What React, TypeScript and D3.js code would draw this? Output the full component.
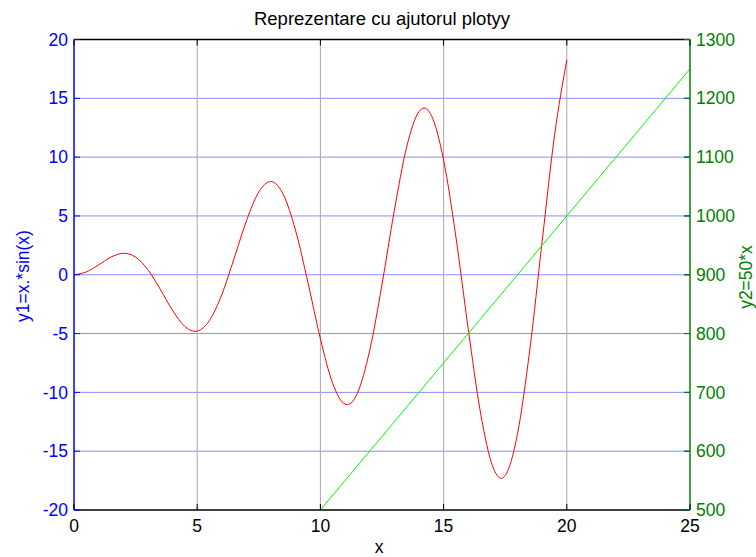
import React from "react";
import * as d3 from "d3";

const x1Values = [0, 0.5, 1, 1.5, 2, 2.03, 2.5, 3, 3.5, 4, 4.5, 4.91, 5, 5.5, 6, 6.5, 7, 7.5, 7.98, 8, 8.5, 9, 9.5, 10, 10.5, 11, 11.09, 11.5, 12, 12.5, 13, 13.5, 14, 14.21, 14.5, 15, 15.5, 16, 16.5, 17, 17.34, 17.5, 18, 18.5, 19, 19.5, 20];
const y1Values = [0, 0.24, 0.84, 1.5, 1.82, 1.82, 1.5, 0.42, -1.23, -3.03, -4.4, -4.81, -4.79, -3.88, -1.68, 1.4, 4.6, 7.04, 7.92, 7.92, 6.79, 3.71, -0.71, -5.44, -9.24, -11.0, -11.04, -10.07, -6.44, -0.83, 5.46, 10.85, 13.87, 14.17, 13.56, 9.75, 3.2, -4.61, -11.75, -16.34, -17.31, -17.07, -13.52, -6.34, 2.85, 11.81, 18.26];
const x2Values = [10, 25];
const y2Values = [500, 1250];

const xTicks = [0, 5, 10, 15, 20, 25];
const y1Ticks = [-20, -15, -10, -5, 0, 5, 10, 15, 20];
const y2Ticks = [500, 600, 700, 800, 900, 1000, 1100, 1200, 1300];

const title = "Reprezentare cu ajutorul plotyy";
const xLabel = "x";
const y1Label = "y1=x.*sin(x)";
const y2Label = "y2=50*x";

const W = 756, H = 557;
const L = 74, R = 690, T = 39.5, B = 510;
const FONT = "'Liberation Sans', Arial, sans-serif";
const FS = 17.5;
const BLUE = "#0000ff";
const GREEN = "#008000";
const TL = 6;

export default function App() {
  const x = d3.scaleLinear().domain([0, 25]).range([L, R]);
  const y1 = d3.scaleLinear().domain([-20, 20]).range([B, T]);
  const y2 = d3.scaleLinear().domain([500, 1300]).range([B, T]);

  const redPts: [number, number][] = x1Values.map((v, i) => [v, y1Values[i]]);
  const greenPts: [number, number][] = x2Values.map((v, i) => [v, y2Values[i]]);
  const redLine = d3.line<[number, number]>().x(d => x(d[0])).y(d => y1(d[1])).curve(d3.curveMonotoneX)(redPts) || "";
  const greenLine = d3.line<[number, number]>().x(d => x(d[0])).y(d => y2(d[1]))(greenPts) || "";

  return (
    <svg width={W} height={H} style={{ position: "absolute", left: 0, top: 0, background: "#fff" }} fontFamily={FONT}>
      <rect x={0} y={0} width={W} height={H} fill="#fff" />
      {/* grid */}
      {y1Ticks.filter(t => t !== -20 && t !== 20).map(t => (
        <line key={"gy" + t} x1={L} x2={R} y1={y1(t)} y2={y1(t)} stroke="#8c8cff" strokeWidth={1} />
      ))}
      {xTicks.filter(t => t !== 0 && t !== 25).map(t => (
        <line key={"gx" + t} x1={x(t)} x2={x(t)} y1={T} y2={B} stroke="#a8a8a8" strokeWidth={1} />
      ))}
      {/* data */}
      <path d={redLine} fill="none" stroke="#ff0000" strokeWidth={1} />
      <path d={greenLine} fill="none" stroke="#00ff00" strokeWidth={1} />
      {/* frame */}
      <line x1={L} x2={R} y1={T} y2={T} stroke="#000" strokeWidth={1.5} />
      <line x1={L} x2={R} y1={B} y2={B} stroke="#000" strokeWidth={1.5} />
      <line x1={L} x2={L} y1={T} y2={B} stroke={BLUE} strokeWidth={1.5} />
      <line x1={R} x2={R} y1={T} y2={B} stroke={GREEN} strokeWidth={1.5} />
      {/* x ticks */}
      {xTicks.map(t => (
        <g key={"xt" + t}>
          <line x1={x(t)} x2={x(t)} y1={B} y2={B - TL} stroke="#000" strokeWidth={1} />
          <line x1={x(t)} x2={x(t)} y1={T} y2={T + TL} stroke="#000" strokeWidth={1} />
          <text x={x(t)} y={532} textAnchor="middle" fontSize={FS} fill="#000">{t}</text>
        </g>
      ))}
      {/* y1 ticks */}
      {y1Ticks.map(t => (
        <g key={"y1t" + t}>
          <line x1={L} x2={L + TL} y1={y1(t)} y2={y1(t)} stroke={BLUE} strokeWidth={1} />
          <line x1={R} x2={R - TL} y1={y1(t)} y2={y1(t)} stroke={BLUE} strokeWidth={1} />
          <text x={68} y={y1(t)} dy="0.35em" textAnchor="end" fontSize={FS} fill={BLUE}>{t}</text>
        </g>
      ))}
      {/* y2 ticks */}
      {y2Ticks.map(t => (
        <g key={"y2t" + t}>
          <line x1={R} x2={R - TL} y1={y2(t)} y2={y2(t)} stroke={GREEN} strokeWidth={1} />
          <text x={696} y={y2(t)} dy="0.35em" textAnchor="start" fontSize={FS} fill={GREEN}>{t}</text>
        </g>
      ))}
      {/* labels */}
      <text x={(L + R) / 2} y={25} textAnchor="middle" fontSize={18.5} fill="#000">{title}</text>
      <text x={379} y={553} textAnchor="middle" fontSize={FS} fill="#000">{xLabel}</text>
      <text transform={`translate(29,276) rotate(-90)`} textAnchor="middle" fontSize={FS} fill={BLUE}>{y1Label}</text>
      <text transform={`translate(752,277) rotate(-90)`} textAnchor="middle" fontSize={FS} fill={GREEN}>{y2Label}</text>
    </svg>
  );
}
